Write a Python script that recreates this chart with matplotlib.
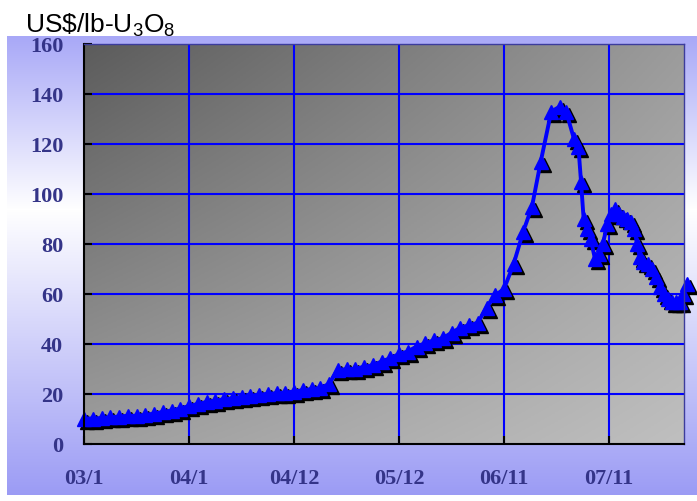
import numpy as np
import matplotlib
matplotlib.use("Agg")
import matplotlib.pyplot as plt
from matplotlib.transforms import offset_copy

# Uranium spot price, US$/lb U3O8 (position along the period axis, price)
period = [0, 1, 2, 3, 4, 5, 6, 7, 8, 9, 10, 11, 12, 13, 14, 15, 16, 17, 18, 19,
          20, 21, 22, 23, 24, 25, 26, 27, 28, 29, 30, 31, 32, 33, 34, 35, 36, 37,
          38, 39, 40, 41, 42, 43, 44, 45, 46, 47, 48,
          49.1, 50.2, 51.2, 52.2, 53.4, 54.4, 55.1, 56.0, 56.5, 56.8, 57.1, 57.5,
          57.9, 58.4, 58.9, 59.3, 59.8, 60.2, 60.7, 61.1, 61.6, 62.1, 62.5, 62.9,
          63.2, 63.5, 63.9, 64.4, 64.9, 65.4, 65.8, 66.3, 66.7, 67.2, 67.7, 68.1,
          68.5, 68.9]
price = [10.2, 10.2, 10.4, 10.7, 11.0, 11.3, 11.3, 11.6, 12.2, 12.8, 13.4, 14.2,
         15.2, 16.0, 16.8, 17.4, 17.9, 18.3, 18.9, 19.3, 19.7, 20.1, 20.3, 20.6,
         21.0, 21.5, 22.0, 22.4, 24.0, 29.7, 29.9, 30.1, 30.9, 31.5, 33.0, 34.3,
         36.0, 37.0, 39.0, 40.3, 41.5, 42.3, 44.5, 46.5, 47.5, 48.5, 54.5, 59.5,
         62.0,
         72, 85, 95, 113, 133, 135, 133, 122, 119, 105, 90, 86,
         82, 74, 76, 80, 88, 92, 94, 92, 91, 90, 89, 86,
         80, 75, 73, 72, 70, 67, 63, 60, 58, 57, 57, 57,
         60, 64]

tick_pos = [0, 12, 24, 36, 48, 60]
tick_labels = ["03/1", "04/1", "04/12", "05/12", "06/11", "07/11"]
y_ticks = [0, 20, 40, 60, 80, 100, 120, 140, 160]
unit_label = r"US\$/lb-U$_3$O$_8$"

plt.rcParams["mathtext.fontset"] = "custom"
plt.rcParams["mathtext.rm"] = "Liberation Sans"
plt.rcParams["mathtext.it"] = "Liberation Sans"

W, H = 697, 502
fig = plt.figure(figsize=(W / 100, H / 100), dpi=100)

# lavender backdrop panel with a pale band in the upper part
bg = fig.add_axes([0, 0, 1, 1], zorder=-5)
bg.set_axis_off()
rows = np.arange(H)
top = np.array([0.66, 0.66, 0.97])
mid = np.array([1.0, 1.0, 1.0])
bot = np.array([0.61, 0.61, 0.96])
img = np.ones((H, W, 3))
for c in range(3):
    col = np.interp(rows, [37, 210, 495], [top[c], mid[c], bot[c]])
    img[:, :, c] = col[:, None]
img[:37, :, :] = 1.0
img[496:, :, :] = 1.0
img[:, :7, :] = 1.0
bg.imshow(img, extent=[0, 1, 0, 1], aspect="auto", origin="upper",
          transform=bg.transAxes)
bg.set_xlim(0, 1)
bg.set_ylim(0, 1)

left, right, top_px, bottom_px = 84, 684, 45, 445
ax = fig.add_axes([left / W, (H - bottom_px) / H, (right - left) / W,
                   (bottom_px - top_px) / H])

# grey diagonal shading inside the plot area
gx = np.linspace(0, 1, 200)
gy = np.linspace(0, 1, 200)
GX, GY = np.meshgrid(gx, gy)
tl, tr, bl, br = 0.36, 0.61, 0.62, 0.75
shade = (tl * (1 - GX) * (1 - GY) + tr * GX * (1 - GY)
         + bl * (1 - GX) * GY + br * GX * GY)
ax.imshow(np.dstack([shade] * 3), extent=[0, 1, 0, 1], origin="upper",
          aspect="auto", transform=ax.transAxes, zorder=0)

ax.set_xlim(0, 68.57)
ax.set_ylim(0, 160)

for yv in y_ticks[1:-1]:
    ax.axhline(yv, color="#0000ff", lw=1.5, zorder=1)
for xv in tick_pos[1:]:
    ax.axvline(xv, color="#0000ff", lw=1.5, zorder=1)

# drop shadow behind the markers only
shadow = offset_copy(ax.transData, fig=fig, x=3, y=-3, units="dots")
ax.plot(period, price, ls="none", marker="^", ms=10.5,
        mec="black", mfc="black", transform=shadow, zorder=2, clip_on=False)
ax.plot(period, price, color="#0000ff", lw=2.8, marker="^", ms=10.5,
        mec="#0000ff", mfc="#0000ff", zorder=3, clip_on=False)

ax.set_xticks(tick_pos)
ax.set_xticklabels(tick_labels)
ax.set_yticks(y_ticks)
ax.set_yticklabels([str(v) for v in y_ticks])

lab_color = "#343488"
for lab in ax.get_xticklabels() + ax.get_yticklabels():
    lab.set_fontfamily("Liberation Serif")
    lab.set_fontweight("bold")
    lab.set_fontsize(16)
    lab.set_color(lab_color)

ax.tick_params(axis="both", direction="in", length=6, width=1.5,
               color="black")
ax.tick_params(axis="x", pad=17)
ax.tick_params(axis="y", pad=15)

for side in ("left", "bottom"):
    ax.spines[side].set_color("black")
    ax.spines[side].set_linewidth(1.5)
for side in ("top", "right"):
    ax.spines[side].set_color("#3c3c9c")
    ax.spines[side].set_linewidth(1.0)
for s in ax.spines.values():
    s.set_zorder(4)

fig.text(25 / W, 1 - 33 / H, unit_label, fontsize=19,
         family="Liberation Sans", color="black", ha="left", va="baseline")

fig.savefig("out.png", dpi=100)
